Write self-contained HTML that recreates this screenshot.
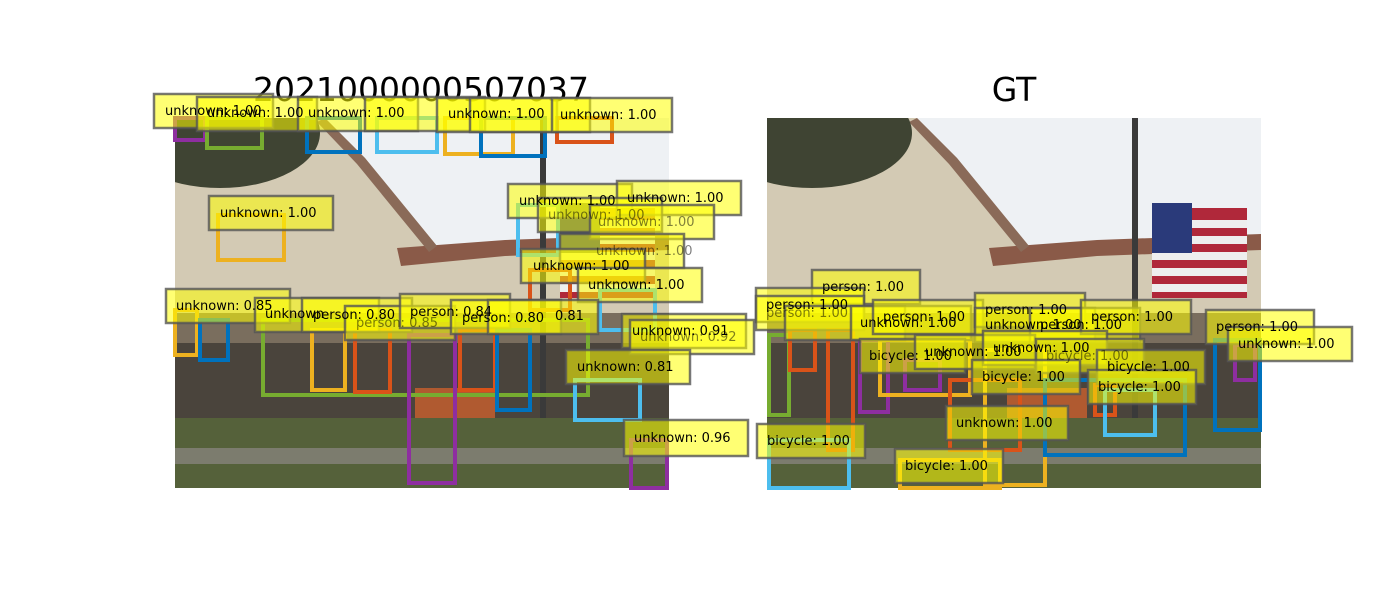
<!DOCTYPE html>
<html><head><meta charset="utf-8"><style>
html,body{margin:0;padding:0;background:#fff;}
svg{display:block;font-family:"DejaVu Sans","Liberation Sans",sans-serif;}
</style></head><body>
<svg width="1400" height="600" viewBox="0 0 1400 600" xmlns="http://www.w3.org/2000/svg">
<defs>
<g id="photo">
<rect x="0" y="0" width="494" height="370" fill="#eef1f4"/>
<polygon points="0,0 150,0 190,40 262,128 494,118 494,300 0,300" fill="#d3cab4"/>
<polygon points="222,130 330,122 494,116 494,132 330,138 226,148" fill="#8a5a48"/>
<polygon points="150,0 190,40 262,128 254,134 182,46 142,4" fill="#8a6a58"/>
<ellipse cx="45" cy="15" rx="100" ry="55" fill="#3f4433"/>
<rect x="0" y="195" width="494" height="110" fill="#7a6e5e"/>
<rect x="0" y="225" width="494" height="90" fill="#4a443c"/>
<rect x="240" y="270" width="80" height="30" fill="#b05a30"/>
<rect x="0" y="300" width="494" height="70" fill="#55613a"/>
<rect x="0" y="330" width="494" height="16" fill="#7c7c6e"/>
<rect x="365" y="0" width="6" height="300" fill="#3a3a3a"/>
</g>
<g id="flag">
<rect x="385" y="90" width="95" height="90" fill="#b0283a"/>
<rect x="385" y="102" width="95" height="8" fill="#eee"/>
<rect x="385" y="118" width="95" height="8" fill="#eee"/>
<rect x="385" y="134" width="95" height="8" fill="#eee"/>
<rect x="385" y="150" width="95" height="8" fill="#eee"/>
<rect x="385" y="166" width="95" height="8" fill="#eee"/>
<rect x="385" y="85" width="40" height="50" fill="#2a3a7a"/>
</g>
</defs>

<text x="421" y="101" font-size="33" text-anchor="middle" fill="#000">2021000000507037</text>
<text x="1014" y="101" font-size="33" text-anchor="middle" fill="#000">GT</text>

<svg x="175" y="118" width="494" height="370" viewBox="0 0 494 370" overflow="hidden"><use href="#photo"/><use href="#flag"/></svg>
<svg x="767" y="118" width="494" height="370" viewBox="0 0 494 370" overflow="hidden"><use href="#photo"/><use href="#flag"/></svg>

<g fill="none" stroke-width="4">
<rect x="175" y="118" width="30" height="22" stroke="#8e2ea0"/>
<rect x="207" y="118" width="55" height="30" stroke="#77ac30"/>
<rect x="307" y="118" width="53" height="34" stroke="#0072bd"/>
<rect x="377" y="118" width="60" height="34" stroke="#4dbeee"/>
<rect x="445" y="118" width="68" height="36" stroke="#edb120"/>
<rect x="481" y="118" width="64" height="38" stroke="#0072bd"/>
<rect x="557" y="118" width="55" height="24" stroke="#d95319"/>
<rect x="218" y="215" width="66" height="45" stroke="#edb120"/>
<rect x="518" y="205" width="40" height="50" stroke="#4dbeee"/>
<rect x="530" y="270" width="40" height="40" stroke="#d95319"/>
<rect x="600" y="290" width="55" height="40" stroke="#4dbeee"/>
<rect x="175" y="310" width="22" height="45" stroke="#edb120"/>
<rect x="200" y="320" width="28" height="40" stroke="#0072bd"/>
<rect x="263" y="320" width="325" height="75" stroke="#77ac30"/>
<rect x="312" y="330" width="33" height="60" stroke="#edb120"/>
<rect x="355" y="330" width="35" height="62" stroke="#d95319"/>
<rect x="409" y="335" width="46" height="148" stroke="#8e2ea0"/>
<rect x="460" y="330" width="35" height="60" stroke="#d95319"/>
<rect x="497" y="330" width="33" height="80" stroke="#0072bd"/>
<rect x="575" y="380" width="65" height="40" stroke="#4dbeee"/>
<rect x="631" y="440" width="36" height="48" stroke="#8e2ea0"/>
<rect x="769" y="335" width="20" height="80" stroke="#77ac30"/>
<rect x="790" y="330" width="25" height="40" stroke="#d95319"/>
<rect x="828" y="330" width="25" height="120" stroke="#d95319"/>
<rect x="860" y="340" width="28" height="72" stroke="#8e2ea0"/>
<rect x="880" y="340" width="90" height="55" stroke="#edb120"/>
<rect x="905" y="360" width="35" height="30" stroke="#8e2ea0"/>
<rect x="950" y="380" width="70" height="70" stroke="#d95319"/>
<rect x="985" y="350" width="60" height="135" stroke="#edb120"/>
<rect x="1045" y="380" width="140" height="75" stroke="#0072bd"/>
<rect x="1095" y="385" width="20" height="30" stroke="#d95319"/>
<rect x="1105" y="390" width="50" height="45" stroke="#4dbeee"/>
<rect x="1215" y="340" width="45" height="90" stroke="#0072bd"/>
<rect x="1235" y="345" width="20" height="35" stroke="#8e2ea0"/>
<rect x="769" y="440" width="80" height="48" stroke="#4dbeee"/>
<rect x="900" y="460" width="100" height="28" stroke="#edb120"/>
</g>

<g font-size="13" fill="#000">
<g fill="#ffff00" fill-opacity="0.55" stroke="#555" stroke-opacity="0.8" stroke-width="2.5">
<rect x="154" y="94" width="119" height="34"/>
<rect x="197" y="97" width="120" height="34"/>
<rect x="298" y="97" width="120" height="34"/>
<rect x="365" y="97" width="120" height="34"/>
<rect x="437" y="98" width="120" height="34"/>
<rect x="470" y="98" width="120" height="34"/>
<rect x="552" y="98" width="120" height="34"/>
<rect x="209" y="196" width="124" height="34"/>
<rect x="508" y="184" width="124" height="34"/>
<rect x="617" y="181" width="124" height="34"/>
<rect x="538" y="198" width="124" height="34"/>
<rect x="590" y="205" width="124" height="34"/>
<rect x="560" y="234" width="124" height="34"/>
<rect x="521" y="249" width="124" height="34"/>
<rect x="578" y="268" width="124" height="34"/>
<rect x="166" y="289" width="124" height="34"/>
<rect x="255" y="298" width="124" height="34"/>
<rect x="302" y="298" width="110" height="34"/>
<rect x="345" y="306" width="110" height="34"/>
<rect x="400" y="294" width="110" height="34"/>
<rect x="451" y="300" width="110" height="34"/>
<rect x="488" y="300" width="110" height="34"/>
<rect x="622" y="314" width="124" height="34"/>
<rect x="630" y="320" width="124" height="34"/>
<rect x="566" y="350" width="124" height="34"/>
<rect x="624" y="420" width="124" height="36"/>
<rect x="812" y="270" width="108" height="34"/>
<rect x="756" y="288" width="108" height="34"/>
<rect x="756" y="296" width="108" height="34"/>
<rect x="785" y="306" width="120" height="34"/>
<rect x="851" y="306" width="120" height="34"/>
<rect x="873" y="300" width="110" height="34"/>
<rect x="975" y="293" width="110" height="34"/>
<rect x="975" y="308" width="120" height="34"/>
<rect x="1030" y="308" width="110" height="34"/>
<rect x="1081" y="300" width="110" height="34"/>
<rect x="1206" y="310" width="108" height="34"/>
<rect x="1228" y="327" width="124" height="34"/>
<rect x="860" y="339" width="105" height="34"/>
<rect x="915" y="335" width="120" height="34"/>
<rect x="983" y="331" width="124" height="34"/>
<rect x="1036" y="339" width="108" height="34"/>
<rect x="1097" y="350" width="108" height="34"/>
<rect x="1088" y="370" width="108" height="34"/>
<rect x="972" y="360" width="108" height="34"/>
<rect x="946" y="406" width="122" height="34"/>
<rect x="757" y="424" width="108" height="34"/>
<rect x="895" y="449" width="108" height="34"/>
</g>
<text x="165" y="115">unknown: 1.00</text>
<text x="207" y="117">unknown: 1.00</text>
<text x="308" y="117">unknown: 1.00</text>
<text x="448" y="118">unknown: 1.00</text>
<text x="560" y="119">unknown: 1.00</text>
<text x="220" y="217">unknown: 1.00</text>
<text x="519" y="205">unknown: 1.00</text>
<text x="627" y="202">unknown: 1.00</text>
<text x="548" y="219" fill-opacity="0.5">unknown: 1.00</text>
<text x="598" y="226" fill-opacity="0.5">unknown: 1.00</text>
<text x="596" y="255" fill-opacity="0.5">unknown: 1.00</text>
<text x="533" y="270">unknown: 1.00</text>
<text x="588" y="289">unknown: 1.00</text>
<text x="176" y="310">unknown: 0.85</text>
<text x="265" y="318">unknown</text>
<text x="313" y="319">person: 0.80</text>
<text x="356" y="327" fill-opacity="0.5">person: 0.85</text>
<text x="410" y="316">person: 0.84</text>
<text x="462" y="322">person: 0.80</text>
<text x="555" y="320">0.81</text>
<text x="632" y="335">unknown: 0.91</text>
<text x="640" y="341" fill-opacity="0.5">unknown: 0.92</text>
<text x="577" y="371">unknown: 0.81</text>
<text x="634" y="442">unknown: 0.96</text>
<text x="822" y="291">person: 1.00</text>
<text x="766" y="309">person: 1.00</text>
<text x="766" y="317" fill-opacity="0.5">person: 1.00</text>
<text x="860" y="327">unknown: 1.00</text>
<text x="883" y="321">person: 1.00</text>
<text x="985" y="314">person: 1.00</text>
<text x="985" y="329">unknown: 1.00</text>
<text x="1040" y="329">person: 1.00</text>
<text x="1091" y="321">person: 1.00</text>
<text x="1216" y="331">person: 1.00</text>
<text x="1238" y="348">unknown: 1.00</text>
<text x="869" y="360">bicycle: 1.00</text>
<text x="925" y="356">unknown: 1.00</text>
<text x="993" y="352">unknown: 1.00</text>
<text x="1046" y="360" fill-opacity="0.5">bicycle: 1.00</text>
<text x="1107" y="371">bicycle: 1.00</text>
<text x="1098" y="391">bicycle: 1.00</text>
<text x="982" y="381">bicycle: 1.00</text>
<text x="956" y="427">unknown: 1.00</text>
<text x="767" y="445">bicycle: 1.00</text>
<text x="905" y="470">bicycle: 1.00</text>
</g>
</svg>
</body></html>
